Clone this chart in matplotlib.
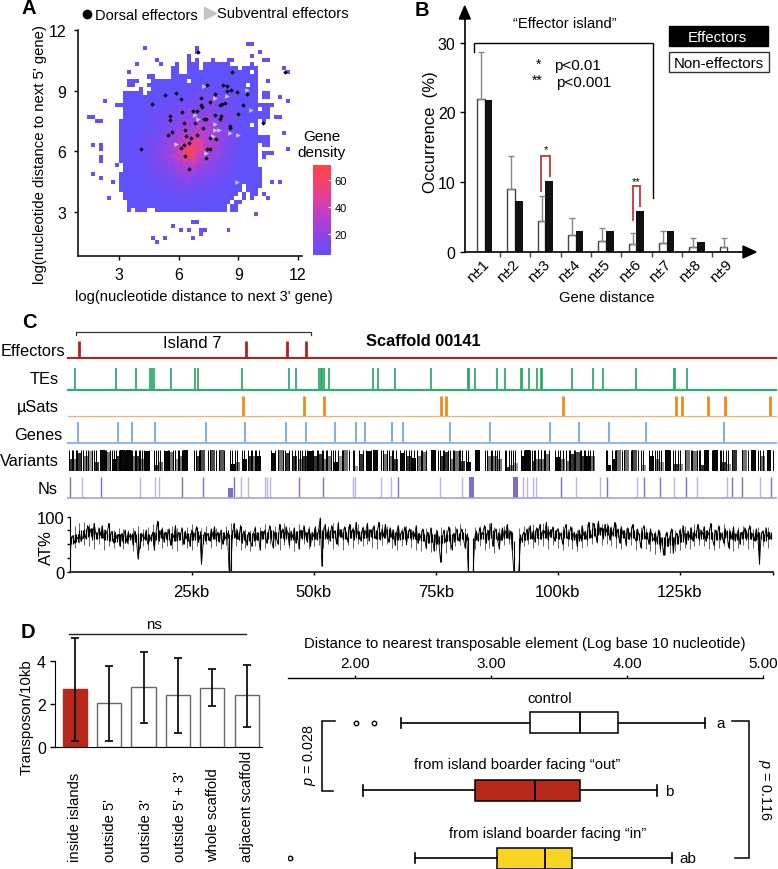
import numpy as np
import matplotlib
matplotlib.use("Agg")
import matplotlib.pyplot as plt
from matplotlib.colors import LinearSegmentedColormap
from matplotlib.lines import Line2D
from matplotlib.patches import Polygon

plt.rcParams['font.family'] = ['Liberation Sans', 'DejaVu Sans']
plt.rcParams['mathtext.fontset'] = 'custom'
plt.rcParams['mathtext.it'] = 'Liberation Sans:italic'
plt.rcParams['mathtext.rm'] = 'Liberation Sans'

W, H = 778, 870

# Panel A: density class per 0.2 x 0.2 log cell, top row first. '.' = no genes
density_rows = [
    "", "", "",
    ".......... ..... ..... ..... ..... ..... ..... ..00.",
    ".......... ..... .0... ..... ....0",
    ".......... ..... ..... ..... ....0 ..... ..... ..... 0",
    ".......... ..... ..... ..... ..0.. ..... ..... ...0.",
    ".......... ..... ....0 ..... ..0.0 ...0. ..00. ..... .00",
    ".......... ....0 ..... 0...0 ..000 .0000 000.. ...0.",
    ".......... ..... ..... ...00 ..000 .0000 00000 .0000 ......0",
    ".......... ..0.. ..... ...00 ..000 00000 00000 000.0 .......0",
    ".......... ..... ..00. ...00 00000 00000 00000 00000",
    ".......... ..000 ...00 00000 00.00 00000 00000 00000 ..0",
    ".......... ..00. ..000 00000 00010 00101 00000 00.00",
    ".......... ..... 0..00 00000 00101 01010 00000 00000",
    ".......... .0000 0.000 00101 01011 21212 10101 00000 .00",
    ".......... .0000 00000 01011 10212 12221 21010 00000 .00..0",
    "......0... .0000 00000 10110 11221 21322 12101 10000 .......0",
    ".........0 00000 00010 10111 21223 13232 21111 00000 0000",
    ".......... .0000 00101 01212 12323 23332 12110 10000 .00",
    ".......... .0000 01011 11221 23324 33423 22211 00000 000",
    "..00...... .0000 00111 21222 32343 34432 32121 10000 000.00",
    "....00.... 00000 01011 12232 33435 34443 22221 00000 .0",
    ".......... 00000 10111 22323 34345 54443 33121 100.0",
    ".......... 00000 11012 21324 35446 55534 23221 10000",
    ".......... 00000 01121 22334 45565 65454 33212 10000 ......0",
    ".......... 00010 11212 23344 56576 56544 33321 00000 000",
    ".......... 00001 10221 23435 56678 76545 33221 10000 000",
    "...0.0.... 00100 11122 33446 67787 75645 32321 10000 .00",
    ".....0.... 00001 01213 23456 68997 86554 33221 00000 .......0",
    ".......... 00010 10223 34346 78987 65434 32211 10000 .000",
    ".....0.... 00001 11122 34456 67887 56443 23121 00000 .0",
    ".....0.... 00100 10212 23445 57676 54433 22211 10000",
    ".........0 .0000 10122 32435 46565 44323 32111 00000",
    ".......... .0010 01112 23234 45454 43332 12110 00000 0",
    "...0...... 00000 01011 22324 34443 33232 21101 00000 0",
    ".....0.... 00000 00111 12223 33423 32212 11010 00000 0",
    "........0. 00000 01011 11222 23322 22121 11100 00000 0..0.0",
    ".......... 00000 00101 11212 22212 12111 01000 0.000 0",
    ".......... 00000 00010 10112 12121 11011 10000 0.000",
    ".......... .0000 00000 01101 11111 10110 00000 .0.00 .0",
    ".......0.. .0000 00000 01010 10101 01000 0000. .0.0. ..0",
    ".......... ..000 00000 00100 01000 10000 000.0 0",
    ".......... ..000 00000 00000 00000 00000 00.00",
    ".......... ..0.0 00..0 00000 00000 00000 00.00",
    ".......... ..... ..... ..... ..... ..... ..... ....0",
    "",
    ".......... ..... ..... ..... ...00",
    ".......... ..... ..... ...0.",
    ".......... ..... ..... ..... 0.0.. 00... ..0..",
    ".......... ..... ..... ..... ..... 0",
    ".......... ..... ...0. .0... ...0.",
    ".......... ..... ....0",
]
density_classes = [4, 8, 12, 17, 23, 29, 36, 44, 54, 68]

dorsal_x = [6.96, 8.68, 11.35, 7.42, 8.23, 8.40, 8.62, 8.43, 8.94, 9.41, 7.81, 7.11, 5.87, 5.29, 6.12,
            4.64, 7.55, 7.10, 7.15, 8.06, 8.19, 8.31, 9.24, 6.14, 6.71, 6.93, 5.55, 5.55, 7.81, 8.11,
            8.06, 8.99, 7.27, 7.38, 6.24, 6.79, 7.22, 6.29, 5.65, 5.45, 6.34, 6.91, 8.56, 8.60, 10.25,
            7.55, 7.86, 6.59, 6.51, 6.25, 6.09, 4.10, 7.42, 7.59, 6.29, 7.35, 6.51]
dorsal_y = [10.91, 9.92, 9.92, 9.29, 9.29, 9.21, 9.01, 8.96, 8.93, 8.82, 8.85, 8.65, 8.90, 8.80, 8.60,
            8.32, 8.44, 8.30, 8.17, 8.30, 8.34, 8.37, 8.27, 7.94, 7.98, 7.98, 7.73, 7.53, 7.79, 7.74,
            7.61, 7.83, 7.58, 7.61, 7.38, 7.38, 7.15, 7.07, 6.95, 6.79, 6.76, 6.79, 7.23, 7.15, 7.38,
            6.67, 6.62, 6.67, 6.43, 6.33, 6.18, 6.13, 6.10, 6.10, 5.77, 5.67, 5.14]
subventral_x = [7.25, 9.41, 8.43, 7.81, 9.61, 6.79, 6.96, 7.81, 7.81, 8.01, 7.72, 8.60, 8.99, 5.87, 7.35, 8.94]
subventral_y = [9.23, 9.01, 8.72, 8.63, 8.02, 7.78, 7.58, 7.37, 7.04, 7.04, 6.76, 6.92, 6.82, 6.38, 5.93, 4.48]

# Panel B
gene_distance = ["n±1", "n±2", "n±3", "n±4", "n±5", "n±6", "n±7", "n±8", "n±9"]
non_effectors = [22, 9.1, 4.5, 2.4, 1.6, 1.1, 1.3, 0.75, 0.75]
non_effectors_top = [28.7, 13.7, 8, 4.9, 3.5, 2.7, 3, 2, 2]
effectors = [21.8, 7.3, 10.2, 3, 3, 5.9, 3, 1.5, 0]

# Panel C, positions in kb
effector_kb = [1.68, 35.6, 44.0, 47.98]
te_kb = [0.87, 9.15, 13.22, 16.14, 16.48, 16.89, 20.35, 25.31, 25.99, 34.89, 44.39, 45.82, 50.64, 50.91,
         51.25, 51.59, 52.54, 61.50, 62.59, 65.97, 73.37, 80.91, 81.18, 82.4, 86.88, 88.51, 91.63, 91.9,
         93.33, 94.96, 95.71, 95.91, 102.16, 106.37, 108.4, 115.0, 122.8, 123.07, 125.5]
usat_kb = [35.02, 47.51, 51.66, 75.47, 76.49, 100.26, 123.34, 124.36, 129.73, 133.26, 142.29]
gene_kb = [1.41, 9.56, 12.55, 17.23, 27.62, 35.43, 43.92, 47.85, 53.76, 58.04, 60.01, 65.36, 67.73, 77.24,
           85.45, 97.68, 103.45, 109.56, 117.23, 132.92]
ns_dark_kb = [-0.15, 6.23, 22.73, 27.01, 33.32, 46.56, 51.45, 66.65, 99.92, 109.15, 116.76, 120.02, 125.24,
              134.55, 136.59, 142.56]
ns_light_kb = [2.23, 14.11, 17.16, 18.05, 34.61, 36.18, 39.57, 40.05, 40.59, 57.43, 57.97, 63.16, 65.29,
               75.27, 79.75, 92.11, 92.99, 94.21, 94.83, 102.84, 107.73, 115.2, 122.8, 127.55, 133.53, 140.32]
ns_block_start = [32.1, 81.04, 90.14]
ns_block_end = [32.6, 82.26, 91.23]

variant_start = [-0.36, 0.46, 1.27, 2.5, 3.45, 4.67, 5.96, 7.11, 8.34, 9.15, 10.03, 11.19, 12.41, 13.22, 14.04,
                 14.99, 17.03, 17.84, 18.93, 20.01, 21.24, 22.05, 22.87, 25.45, 26.33, 28.37, 30.2, 32.44,
                 33.46, 34.82, 36.04, 36.85, 37.67, 40.79, 42.29, 43.64, 45.0, 46.22, 47.04, 48.18, 49.41,
                 50.36, 51.44, 52.26, 53.48, 54.5, 55.38, 57.55, 58.64, 60.13, 61.49, 63.67, 64.75, 65.7,
                 67.06, 68.28, 69.3, 70.59, 71.47, 73.31, 75.21, 76.02, 77.25, 78.06, 79.28, 80.5, 82.34,
                 84.85, 85.8, 86.75, 88.52, 89.33, 90.14, 91.64, 92.52, 93.88, 94.56, 95.16, 95.84, 96.52,
                 98.56, 99.64, 100.93, 101.68, 102.76, 103.85, 104.66, 105.68, 108.94, 110.23, 111.12, 112.68,
                 114.31, 116.2, 117.7, 118.92, 119.74, 120.96, 122.66, 123.68, 125.04, 126.53, 127.89, 128.97,
                 130.87, 132.37, 133.52, 134.68, 136.72, 138.61, 140.31, 141.67, 143.5]
variant_end = [0.19, 1.0, 2.09, 3.18, 4.4, 5.08, 6.98, 8.0, 8.88, 9.83, 11.05, 12.27, 13.09, 13.9, 14.58,
               15.94, 17.3, 18.25, 19.88, 20.9, 21.78, 22.73, 25.18, 26.13, 28.03, 29.52, 31.29, 32.78,
               33.87, 35.36, 36.72, 37.53, 38.35, 41.61, 43.3, 44.46, 45.68, 46.77, 47.72, 49.13, 50.09,
               51.17, 51.99, 52.94, 53.89, 55.18, 56.74, 57.76, 59.45, 61.08, 63.26, 64.48, 65.43, 66.25,
               67.88, 68.96, 69.91, 71.27, 72.36, 74.87, 75.89, 76.91, 77.79, 79.01, 79.76, 80.91, 84.37,
               85.53, 86.48, 87.29, 88.72, 89.6, 90.49, 92.32, 93.54, 94.36, 95.1, 95.7, 96.38, 97.33,
               99.23, 100.18, 101.41, 102.49, 103.65, 104.55, 105.35, 106.36, 109.22, 110.78, 112.27, 114.04,
               115.53, 116.48, 118.38, 119.47, 120.15, 121.98, 123.0, 124.02, 126.39, 127.48, 128.16, 130.47,
               132.17, 132.78, 133.86, 136.58, 137.8, 139.97, 140.99, 143.03, 143.6]
variant_shade = [.2, .45, .2, .45, .6, .2, .03, .45, .03, .2, .03, .03, .45, .2, .45,
                 .03, .2, .45, .03, .45, .6, .45, .03, .2, .3, .3, .35, .03,
                 .45, .03, .2, .45, .03, .03, .45, .2, .2, .45, .2, .03, .2,
                 .2, .45, .45, .03, .6, .45, .6, .2, .03, .03, .45, .45, .2,
                 .03, .2, .03, .45, .45, .03, .2, .2, .45, .45, .2, .03, .03,
                 .45, .45, .45, .2, .45, .6, .03, .03, .2, .45, .3, .45, .45,
                 .03, .45, .45, .2, .3, .2, .03, .45, .03, .03, .45, .45,
                 .3, .6, .03, .45, .6, .03, .2, .6, .45, .45, .2, .03,
                 .03, .2, .6, .2, .45, .03, .45, .03, .45]

# AT content: trace at three readings per kb; core centre and envelope once per kb
nan = float('nan')
at_per_kb = 3
at_percent = [
    20, 58, 66, 52, 64, 60, 70, 55, 62, 72, 60, 84, 66, 78, 58, 88, 70, 62, 80, 66, 84, 60, 76, 68, 88, 64, 74, 52, 72, 60,
    68, 46, 70, 60, 76, 54, 72, 62, 66, 48, 74, 58, 24, 44, 70, 64, 60, 76, 50, 66, 58, 72, 40, 70, 92, 56, 74, 78, 54, 72,
    60, 78, 48, 70, 62, 84, 56, 72, 64, 80, 50, 74, 60, 68, 46, 76, 58, 70, 82, 54, 66, 14, 50, 72, 62, 70, 56, 78, 64, 82,
    58, 72, 54, 76, 50, 68, 60, 70, 0, 0, 66, 88, 62, 76, 58, 84, 52, 74, 66, 48, 72, 60, 46, 70, 80, 58, 66, 40, 74, 62,
    76, 52, 68, 84, 60, 44, 72, 62, 50, 86, 64, 78, 56, 82, 70, 48, 74, 62, 80, 52, 66, 42, 76, 60, 84, 68, 54, 78, 46, 72,
    64, 82, 58, 76, 98, 10, 70, 86, 62, 78, 56, 84, 68, 74, 50, 88, 66, 76, 60, 82, 70, 54, 86, 64, 78, 58, 90, 68, 72, 56,
    80, 62, 74, 88, 56, 76, 66, 84, 60, 70, 90, 58, 78, 64, 86, 68, 54, 80, 62, 76, 48, 72, 84, 60, 74, 66, 82, 50, 70, 78,
    58, 74, 64, 84, 52, 70, 60, 78, 66, 44, 72, 56, 80, 62, 38, 68, 74, 50, 17, 60, 76, 54, 66, 82, 58, 40, 70, 62, 78, 56,
    68, 78, 60, 44, 66, 0, nan, nan, 0, 62, 74, 56, 80, 64, 72, 84, 52, 76, 60, 88, 46, 68, 78, 58, 42, 66, 80, 62, 72, 86,
    60, 74, 40, 0, nan, nan, 0, 52, 62, 72, 58, 78, 66, 84, 60, 74, 54, 80, 68, 86, 62, 76, 70, 90, 58, 72, 64, 82, 56, 70,
    78, 62, 70, 50, 74, 86, 60, 68, 82, 56, 72, 64, 46, 76, 60, 84, 66, 74, 58, 90, 70, 62, 88, 76, 54, 92, 68, 80, 60, 86,
    72, 84, 58, 76, 66, 90, 62, 78, 52, 82, 68, 74, 48, 80, 60, 70, 86, 64, 56, 78, 66, 44, 74, 84, 60, 70, 50, 78, 64, 58,
    70, 54, 76, 42, 62, 30, 58, 72, 46, 66, 78, 34, 62, 70, 52, 76, 60, 84, 66, 50, 74, 62, 80, 56, 72, 64, 86, 58, 76, 68,
    82, 56, 74, 66, 88, 60, 48, 76, 64, 84, 58, 70, 52, 78, 66, 44, 74, 60, 82, 56, 68, 76, 50, 72, 62, 80, 58, 70, 84, 60,
    70, 56, 78, 62, 14, 66, 74, 58, 80, 64, 72, 60,
]
at_core = [
    58, 61, 68, 70, 72, 66, 68, 64, 62, 61,
    62, 60, 64, 61, 63, 64, 62, 65, 68, 66,
    64, 62, 64, 66, 63, 65, 67, 62, 64, 66,
    63, 65, 68, 69, 66, 64, 62, 63, 65, 67,
    66, 68, 66, 69, 66, 64, 67, 68, 66, 64,
    66, 68, 66, 69, 68, 70, 66, 68, 69, 67,
    68, 70, 69, 66, 68, 70, 66, 64, 66, 68,
    66, 64, 62, 60, 61, 58, 60, 62, 61, 64,
    66, 64, 62, 64, 66, 64, 68, 66, 64, 68,
    66, 56, 61, 64, 66, 68, 66, 69, 70, 68,
    66, 68, 66, 64, 62, 66, 68, 72, 74, 72,
    74, 72, 70, 68, 66, 68, 64, 66, 66, 63,
    58, 56, 54, 56, 58, 61, 64, 66, 68, 66,
    68, 66, 64, 66, 68, 66, 64, 66, 68, 66,
    64, 66, 62, 66, 68,
]
at_low = [
    50, 44, 52, 48, 46, 42, 50, 40, 46, 44,
    48, 42, 50, 38, 44, 46, 40, 48, 50, 44,
    46, 42, 38, 48, 44, 40, 46, 42, 50, 44,
    46, 42, 48, 50, 46, 40, 44, 38, 46, 48,
    44, 50, 46, 40, 48, 44, 38, 46, 50, 42,
    46, 48, 44, 50, 42, 46, 40, 48, 44, 50,
    46, 50, 44, 42, 48, 50, 44, 40, 46, 48,
    44, 40, 38, 42, 36, 40, 44, 34, 42, 46,
    48, 44, nan, 42, 46, 40, 44, 34, 46, 48,
    50, nan, 40, 46, 50, 44, 48, 46, 42, 48,
    44, 40, 46, 42, 38, 44, 46, 50, 52, 48,
    50, 46, 44, 42, 46, 48, 40, 44, 42, 38,
    32, 36, 30, 34, 38, 40, 44, 42, 46, 48,
    46, 42, 40, 44, 46, 42, 38, 44, 48, 42,
    44, 40, 46, 44, 46,
]
at_high = [
    80, 84, 88, 90, 86, 82, 80, 78, 82, 76,
    80, 78, 76, 80, 84, 78, 82, 86, 90, 82,
    78, 84, 80, 76, 82, 86, 78, 80, 84, 78,
    80, 76, 84, 88, 80, 82, 78, 76, 84, 82,
    86, 80, 84, 78, 88, 82, 80, 86, 78, 84,
    80, 86, 82, 84, 88, 92, 80, 84, 82, 86,
    84, 88, 82, 80, 86, 84, 78, 82, 80, 84,
    78, 82, 76, 80, 74, 78, 82, 76, 80, 84,
    86, 80, nan, 82, 84, 80, 88, 82, 80, 84,
    78, nan, 80, 84, 82, 86, 80, 88, 84, 82,
    80, 84, 78, 82, 76, 80, 86, 90, 88, 86,
    88, 84, 86, 82, 80, 84, 78, 82, 80, 76,
    74, 72, 70, 74, 76, 80, 84, 82, 86, 80,
    84, 80, 78, 82, 86, 80, 78, 82, 84, 80,
    78, 82, 76, 82, 84,
]

# Panel D left
transposon_groups = ["inside islands", "outside 5'", "outside 3'", "outside 5' + 3'", "whole scaffold", "adjacent scaffold"]
transposon_mean = [2.7, 2.08, 2.8, 2.42, 2.75, 2.42]
transposon_low = [0.3, 0.3, 1.15, 0.65, 1.9, 0.95]
transposon_high = [5.1, 3.8, 4.45, 4.15, 3.65, 3.85]

# Panel D right
box_names = ["control", "from island boarder facing “out”", "from island boarder facing “in”"]
box_letters = ["a", "b", "ab"]
box_colors = ["white", "#b5281a", "#f8d520"]
box_whislo = [2.336, 2.06, 2.44]
box_q1 = [3.288, 2.88, 3.046]
box_med = [3.656, 3.325, 3.394]
box_q3 = [3.935, 3.656, 3.597]
box_whishi = [4.574, 4.22, 4.33]
box_fliers = [[2.01, 2.14], [], [1.52]]


def rect(x0, y0, x1, y1):
  return [x0 / W, 1 - y1 / H, (x1 - x0) / W, (y1 - y0) / H]


def label(x, y, s, size=10.5, ha='center', va='center', **kw):
  return fig.text(x / W, 1 - y / H, s, fontsize=size, ha=ha, va=va, **kw)


def stroke(xs, ys, color='black', lw=1.0):
  fig.add_artist(Line2D([x / W for x in xs], [1 - y / H for y in ys],
                        color=color, lw=lw, solid_joinstyle='miter'))


def triangle(points):
  fig.add_artist(Polygon([(x / W, 1 - y / H) for x, y in points], closed=True,
                         color='black', transform=fig.transFigure))


fig = plt.figure(figsize=(W / 100, H / 100), dpi=100)

for letter, x, y in [("A", 29, 9), ("B", 422, 10), ("C", 29, 323), ("D", 28, 633)]:
  label(x, y, letter, size=14.5, fontweight='bold')

# ---- A ----
density_cmap = LinearSegmentedColormap.from_list(
    "density", ["#5f52fb", "#8a45ea", "#b43fd0", "#dc3fa4", "#f4416f", "#ff4545"])
ax = fig.add_axes(rect(77.5, 31, 302, 257))
grid = np.full((len(density_rows), 53), np.nan)
for r, row in enumerate(density_rows):
  for c, ch in enumerate(row.replace(" ", "")):
    if ch != '.':
      grid[r, c] = density_classes[int(ch)]
ax.pcolormesh(1 + 0.2 * np.arange(54), 12 - 0.2 * np.arange(len(density_rows) + 1),
              np.ma.masked_invalid(grid), cmap=density_cmap, vmin=4, vmax=71)
ax.scatter(subventral_x, subventral_y, marker='>', s=11, color='#c8c8d0', linewidths=0, zorder=3)
ax.scatter(dorsal_x, dorsal_y, marker='D', s=5, color='black', linewidths=0, zorder=4)
ax.set_xlim(0.9, 12.2)
ax.set_ylim(0.82, 12)
ax.set_xticks([3, 6, 9, 12])
ax.set_yticks([3, 6, 9, 12])
ax.tick_params(labelsize=11.5, length=3, width=1, pad=5)
for side in ['top', 'right']:
  ax.spines[side].set_visible(False)
for side in ['left', 'bottom']:
  ax.spines[side].set_linewidth(1.1)
label(40, 155, "log(nucleotide distance to next 5' gene)", size=10.7, rotation=90)
label(204, 297, "log(nucleotide distance to next 3' gene)", size=10.6)

fig.add_artist(Line2D([87 / W], [1 - 15.3 / H], marker='o', ms=6, mfc='black', mec='black',
                      transform=fig.transFigure))
fig.add_artist(Line2D([210 / W], [1 - 14 / H], marker='>', ms=8, mfc='#c4c4c4', mec='#c4c4c4',
                      transform=fig.transFigure))
label(95, 16, "Dorsal effectors", size=10.5, ha='left')
label(217.3, 14, "Subventral effectors", size=10.6, ha='left')

label(322, 137, "Gene", size=11)
label(322, 153, "density", size=11)
cax = fig.add_axes(rect(312.7, 166, 330.7, 256))
cax.imshow(np.linspace(71, 4, 256)[:, None], cmap=density_cmap, vmin=4, vmax=71,
           aspect='auto', extent=[0, 1, 4, 71])
cax.set_xticks([])
cax.set_yticks([20, 40, 60])
cax.yaxis.tick_right()
cax.tick_params(axis='y', labelsize=8, length=2.5, direction='in', color='white', pad=3)
for side in cax.spines:
  cax.spines[side].set_visible(False)

# ---- B ----
ax = fig.add_axes(rect(464.7, 20, 745, 253))
x = np.arange(len(gene_distance))
ax.bar(x - 0.127, non_effectors, 0.253, color='white', edgecolor='#444444', lw=1)
ax.bar(x + 0.127, effectors, 0.253, color='#111111')
ax.errorbar(x - 0.127, non_effectors,
            yerr=[np.zeros(len(x)), np.array(non_effectors_top) - np.array(non_effectors)],
            fmt='none', ecolor='#888888', elinewidth=1, capsize=2, capthick=1)
ax.set_xlim(-0.66, 8.58)
ax.set_ylim(0, 33.4)
ax.set_yticks([0, 10, 20, 30])
ax.set_xticks((x[:-1] + 0.5).tolist())
ax.set_xticklabels([])
ax.tick_params(labelsize=11.5, length=3.5, width=1, pad=3)
ax.tick_params(axis='x', color='#444444')
for side in ['top', 'right']:
  ax.spines[side].set_visible(False)
for side in ['left', 'bottom']:
  ax.spines[side].set_linewidth(1.2)
for i, name in enumerate(gene_distance):
  ax.annotate(name, (i, 0), xytext=(-4.8, -13.5), textcoords='offset points', rotation=45,
              ha='center', va='center', fontsize=10.8, annotation_clip=False)
triangle([(464.7, 7), (459.3, 20), (470.3, 20)])
triangle([(756, 253), (743, 247), (743, 259)])
label(430, 131.7, "Occurrence  (%)", size=12, rotation=90)
label(607, 298, "Gene distance", size=10.6)
label(565, 24, "“Effector island”", size=10.6)
stroke([474, 474, 652.7, 652.7], [53.3, 44, 44, 199], lw=1)
label(539, 65, "*", size=10)
label(554.3, 66, "p<0.01", size=11, ha='left')
label(537, 81, "**", size=10)
label(555.7, 83, "p<0.001", size=11, ha='left')
stroke([541.3, 541.3, 549.7, 549.7], [192, 157.3, 157.3, 176.7], color='#c8453f', lw=1.4)
label(546, 150, "*", size=8)
stroke([633, 633, 639.7, 639.7], [220.7, 186.7, 186.7, 206.7], color='#c8453f', lw=1.4)
label(636, 182, "**", size=8)
fig.add_artist(plt.Rectangle((669 / W, 1 - 47 / H), 99 / W, 20 / H, color='black', transform=fig.transFigure))
label(717.5, 38, "Effectors", size=10.8, color='white')
fig.add_artist(plt.Rectangle((668.5 / W, 1 - 73 / H), 100 / W, 20 / H, facecolor='white', edgecolor='#333333',
                             lw=1, transform=fig.transFigure))
label(719, 64, "Non-effectors", size=10.8)

# ---- C ----
tracks = [
    ("Effectors", effector_kb, '#b22222', '#b22222', 341.7, 359, 2.0, 1.5),
    ("TEs", te_kb, '#22a565', '#2fae6e', 369, 391, 1.2, 1.6),
    ("µSats", usat_kb, '#ef8a1e', '#f4b070', 396.7, 417.3, 2.0, 0.9),
    ("Genes", gene_kb, '#86afe0', '#96b8e4', 422.7, 443.7, 1.5, 1.5),
]
track_right = {"Effectors": (65, 351.7), "TEs": (59, 380), "µSats": (59, 407.7), "Genes": (62, 435.7)}
for name, kb, color, base_color, top, base, lw, base_lw in tracks:
  ax = fig.add_axes(rect(67.8, top, 776, base))
  ax.vlines(kb, 0, 1, color=color, lw=lw)
  ax.axhline(0, color=base_color, lw=base_lw, clip_on=False)
  ax.set_xlim(-0.6, 143.6)
  ax.set_ylim(0, 1)
  ax.axis('off')
  label(track_right[name][0], track_right[name][1], name, size=11.8, ha='right')

ax = fig.add_axes(rect(67.8, 450.7, 776, 471.7))
starts = np.array(variant_start)
ax.bar(starts, np.array(variant_end) - starts, 1, align='edge',
       color=[str(s) for s in variant_shade], lw=0)
# band edges are single variant calls, they print as hard lines
ax.vlines(starts, 0, 1, color='black', lw=0.7)
ax.vlines(variant_end, 0, 1, color='black', lw=0.7)
ax.set_xlim(-0.6, 143.6)
ax.set_ylim(0, 1)
ax.axis('off')
label(59, 461.7, "Variants", size=11.8, ha='right')

ax = fig.add_axes(rect(67.8, 478.3, 776, 499.3))
ax.vlines(ns_dark_kb, 0, 1, color='#7f6fc8', lw=1)
ax.vlines(ns_light_kb, 0, 1, color='#bdb3e6', lw=1)
blocks = np.array(ns_block_start)
ax.bar(blocks, np.array(ns_block_end) - blocks, 1, align='edge', color='#7f6fc8', lw=0)
ax.axhline(0, color='#a89ddd', lw=1.2, clip_on=False)
ax.set_xlim(-0.6, 143.6)
ax.set_ylim(0, 1)
ax.axis('off')
label(58, 490, "Ns", size=11.8, ha='right')

ax = fig.add_axes(rect(69.7, 517.7, 773, 572.7))
at_x = np.arange(len(at_percent)) / at_per_kb
at_values = np.array(at_percent, dtype=float)
core = np.repeat(at_core, at_per_kb)[:len(at_x)]
good = ~np.isnan(at_values)
# envelope first, grey hairs behind the trace
kb_x = np.arange(len(at_core))
ax.vlines(kb_x, at_low, at_high, color='#666666', lw=0.7)
ax.vlines(at_x[good], core[good], at_values[good], color='black', lw=0.8)
nonzero = good & (at_values > 0)
ax.vlines(at_x[nonzero], core[nonzero] - 7, core[nonzero] + 7, color='black', lw=0.8)
ax.plot(at_x, at_values, color='black', lw=0.6)
ax.set_xlim(0, 144.1)
ax.set_ylim(0, 100)
ax.set_yticks([0, 25, 50, 75, 100])
ax.set_yticklabels(["0", "", "", "", "100"])
ax.set_xticks([25, 50, 75, 100, 125, 144.1])
ax.set_xticklabels(["25kb", "50kb", "75kb", "100kb", "125kb", ""])
ax.tick_params(labelsize=12, length=2.5, width=1, pad=6)
ax.tick_params(axis='y', pad=1.5)
ax.spines['top'].set_visible(False)
ax.spines['right'].set_visible(False)
ax.spines['bottom'].set_linewidth(1.4)
ax.spines['bottom'].set_color('#333333')
label(46, 548, "AT%", size=12, rotation=90)

# bracket over the island
stroke([75.7, 75.7, 310.7, 310.7], [336, 332.7, 332.7, 336], color='#333333', lw=0.9)
label(192.7, 343.7, "Island 7", size=12)
label(365.7, 341.7, "Scaffold 00141", size=11.8, ha='left', fontweight='bold')

# ---- D left ----
ax = fig.add_axes(rect(55, 635, 262, 748.3))
x = np.arange(len(transposon_groups))
ax.bar(x, transposon_mean, 0.706, color=['#b5281a'] + ['white'] * 5,
       edgecolor=['#b5281a'] + ['#666666'] * 5, lw=1)
mean = np.array(transposon_mean)
ax.errorbar(x, mean, yerr=[mean - np.array(transposon_low), np.array(transposon_high) - mean],
            fmt='none', ecolor='#111111', elinewidth=1.3, capsize=3, capthick=1.3, clip_on=False)
ax.set_xlim(-0.573, 5.445)
ax.set_ylim(0, 5.27)
ax.set_yticks([0, 2, 4])
ax.set_xticks([])
ax.tick_params(labelsize=11.5, length=3.5, width=1, pad=3)
ax.spines['top'].set_visible(False)
ax.spines['right'].set_visible(False)
ax.spines['left'].set_bounds(0, 4)
label(27, 717, "Transposon/10kb", size=10.8, rotation=90)
stroke([69, 245.7], [635, 635], color='#222222', lw=1)
label(154, 625, "ns", size=10.8)
for group, px in zip(transposon_groups, [75, 110, 145.7, 180, 213, 247]):
  label(px, 861.7, group, size=10.6, rotation=90, va='bottom')

# ---- D right ----
ax = fig.add_axes(rect(288.3, 679, 763.3, 870))
positions = [3, 2, 1]
stats = [dict(whislo=box_whislo[i], q1=box_q1[i], med=box_med[i], q3=box_q3[i], whishi=box_whishi[i],
              fliers=box_fliers[i]) for i in range(3)]
parts = ax.bxp(stats, positions=positions, orientation='horizontal', widths=0.306, patch_artist=True,
               flierprops=dict(marker='o', ms=3.2, mfc='white', mec='black', mew=1),
               medianprops=dict(color='black', lw=1.3), whiskerprops=dict(color='black', lw=1.2),
               capprops=dict(color='black', lw=1.2), boxprops=dict(edgecolor='black', lw=1.1), manage_ticks=False)
for patch, color in zip(parts['boxes'], box_colors):
  patch.set_facecolor(color)
ax.set_xlim(1.51, 5)
ax.set_ylim(0.84, 3.66)
ax.xaxis.tick_top()
ax.set_xticks([2, 3, 4, 5])
ax.set_xticklabels(["2.00", "3.00", "4.00", "5.00"])
ax.set_yticks([])
ax.tick_params(labelsize=11, length=2.5, width=0.9, pad=3)
for side in ['left', 'right', 'bottom']:
  ax.spines[side].set_visible(False)
ax.spines['top'].set_linewidth(1)
label(525, 644, "Distance to nearest transposable element (Log base 10 nucleotide)", size=10.6)
for px, py, name in zip([549.3, 517.3, 547.3], [699.3, 765, 834], box_names):
  label(px, py, name, size=10.6)
for px, py, letter in zip([720.7, 669, 687.7], [723.7, 792, 859], box_letters):
  label(px, py, letter, size=11)
stroke([335, 322.3, 322.3, 333.3], [721.7, 721.7, 792, 792], lw=1.1)
label(310, 755, r"$\mathit{p}$ = 0.028", size=10.4, rotation=90)
stroke([731.7, 749, 749, 735], [721.7, 721.7, 859, 859], lw=1.1)
label(764.3, 790, r"$\mathit{p}$ = 0.116", size=10.4, rotation=270)

fig.savefig("out.png", dpi=100)
